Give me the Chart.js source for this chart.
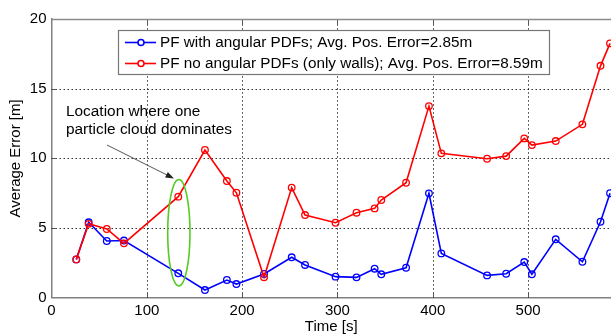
<!DOCTYPE html>
<html>
<head>
<meta charset="utf-8">
<script src="https://cdn.jsdelivr.net/npm/chart.js@4/dist/chart.umd.min.js"></script>
<style>
html,body{margin:0;padding:0;background:#fff;overflow:hidden;}
#wrap{width:611px;height:334px;position:relative;overflow:hidden;}
</style>
</head>
<body>
<div id="wrap"><canvas id="c" width="611" height="334"></canvas></div>
<script>
const times = [26, 39, 58, 76, 133, 161, 184, 194, 223, 252, 266, 298, 320, 339, 346, 372, 396, 409, 457, 477, 496, 504, 529, 557, 576, 586];
const withAngular = [2.75, 5.41, 4.07, 4.1, 1.75, 0.55, 1.27, 0.98, 1.7, 2.9, 2.35, 1.51, 1.46, 2.08, 1.68, 2.15, 7.49, 3.18, 1.6, 1.72, 2.56, 1.68, 4.19, 2.58, 5.45, 7.5];
const noAngular = [2.75, 5.3, 4.93, 3.9, 7.25, 10.6, 8.37, 7.53, 1.46, 7.9, 5.93, 5.38, 6.1, 6.41, 7.01, 8.25, 13.75, 10.36, 9.97, 10.16, 11.43, 10.95, 11.24, 12.44, 16.64, 18.25];
const seriesLabels = ['PF with angular PDFs; Avg. Pos. Error=2.85m', 'PF no angular PDFs (only walls); Avg. Pos. Error=8.59m'];
const seriesColors = ['#0000ff', '#ff0000'];
const xTicks = [0, 100, 200, 300, 400, 500];
const yTicks = [0, 5, 10, 15, 20];
const annotationLines = ['Location where one', 'particle cloud dominates'];
const ellipseCenter = {x: 133.6, y: 4.66, rx: 11.7, ry: 3.82};

const FONT = '"Liberation Sans", Arial, Helvetica, sans-serif';

function pts(ys){ return times.map((t,i)=>({x:t,y:ys[i]})); }

const px = v => Math.round(v) + 0.5;

const deco = {
  id: 'deco',
  beforeDatasetsDraw(chart){
    const ctx = chart.ctx, xs = chart.scales.x, ys = chart.scales.y, ca = chart.chartArea;
    ctx.save();
    ctx.strokeStyle = 'rgba(0,0,0,0.8)'; ctx.lineWidth = 1; ctx.setLineDash([1.5, 2.5]);
    const top = ys.getPixelForValue(20), bot = ys.getPixelForValue(0);
    xTicks.forEach(v => { if (v <= 0) return; const x = px(xs.getPixelForValue(v)); ctx.beginPath(); ctx.moveTo(x, bot); ctx.lineTo(x, top); ctx.stroke(); });
    yTicks.forEach(v => { if (v <= 0 || v >= 20) return; const y = px(ys.getPixelForValue(v)); ctx.beginPath(); ctx.moveTo(ca.left, y); ctx.lineTo(ca.right, y); ctx.stroke(); });
    ctx.setLineDash([]);
    // inward tick marks
    ctx.strokeStyle = '#555';
    xTicks.forEach(v => { if (v <= 0) return; const x = px(xs.getPixelForValue(v));
      ctx.beginPath(); ctx.moveTo(x, bot); ctx.lineTo(x, bot - 5); ctx.moveTo(x, top); ctx.lineTo(x, top + 5); ctx.stroke(); });
    yTicks.forEach(v => { if (v <= 0 || v >= 20) return; const y = px(ys.getPixelForValue(v));
      ctx.beginPath(); ctx.moveTo(ca.left, y); ctx.lineTo(ca.left + 5, y); ctx.stroke(); });
    ctx.restore();
  },
  afterDatasetsDraw(chart){
    const ctx = chart.ctx, xs = chart.scales.x, ys = chart.scales.y, ca = chart.chartArea;
    ctx.save();
    // top border
    ctx.strokeStyle = '#8a8a8a'; ctx.lineWidth = 1.5;
    const ty = Math.round(ys.getPixelForValue(20)) + 0.5;
    ctx.beginPath(); ctx.moveTo(ca.left, ty); ctx.lineTo(ca.right + 5, ty); ctx.stroke();
    // ellipse
    const cx = xs.getPixelForValue(ellipseCenter.x), cy = ys.getPixelForValue(ellipseCenter.y);
    const rx = Math.abs(xs.getPixelForValue(ellipseCenter.x + ellipseCenter.rx) - cx);
    const ry = Math.abs(ys.getPixelForValue(ellipseCenter.y + ellipseCenter.ry) - cy);
    ctx.strokeStyle = '#55cc22'; ctx.lineWidth = 1.6;
    ctx.beginPath(); ctx.ellipse(cx, cy, rx, ry, 0, 0, Math.PI*2); ctx.stroke();
    // annotation text
    ctx.fillStyle = '#000'; ctx.font = '15.4px ' + FONT; ctx.textBaseline = 'middle'; ctx.textAlign = 'left';
    ctx.fillText(annotationLines[0], 66, 112);
    ctx.fillText(annotationLines[1], 66, 130);
    // arrow
    const x1 = 107, y1 = 145, x2 = 174, y2 = 178.5;
    ctx.strokeStyle = '#555'; ctx.lineWidth = 1;
    ctx.beginPath(); ctx.moveTo(x1, y1); ctx.lineTo(x2 - 6, y2 - 3); ctx.stroke();
    const ang = Math.atan2(y2 - y1, x2 - x1);
    ctx.fillStyle = '#222';
    ctx.beginPath();
    ctx.moveTo(x2, y2);
    ctx.lineTo(x2 - 9*Math.cos(ang - 0.35), y2 - 9*Math.sin(ang - 0.35));
    ctx.lineTo(x2 - 9*Math.cos(ang + 0.35), y2 - 9*Math.sin(ang + 0.35));
    ctx.closePath(); ctx.fill();
    // legend box
    const lx = 118.5, ly = 30.5, lw = 431, lh = 44;
    ctx.fillStyle = '#fff'; ctx.fillRect(lx, ly, lw, lh);
    ctx.strokeStyle = '#777'; ctx.lineWidth = 1.2; ctx.strokeRect(lx, ly, lw, lh);
    const rows = [42.5, 63.5];
    for (let i = 0; i < 2; i++){
      ctx.strokeStyle = seriesColors[i]; ctx.lineWidth = 1.6;
      ctx.beginPath(); ctx.moveTo(125, rows[i]); ctx.lineTo(156, rows[i]); ctx.stroke();
      ctx.beginPath(); ctx.arc(141, rows[i], 3, 0, Math.PI*2); ctx.fillStyle = '#fff'; ctx.fill(); ctx.stroke();
      ctx.fillStyle = '#000'; ctx.font = '15.3px ' + FONT; ctx.textBaseline = 'middle';
      ctx.fillText(seriesLabels[i], 160, rows[i] + 0.5);
    }
    ctx.restore();
  }
};

new Chart(document.getElementById('c'), {
  type: 'scatter',
  data: {
    datasets: [
      {label: seriesLabels[0], data: pts(withAngular), showLine: true, borderColor: seriesColors[0], backgroundColor: 'rgba(0,0,0,0)', borderWidth: 1.6, pointRadius: 3.3, pointBorderWidth: 1.3, pointBorderColor: seriesColors[0], pointBackgroundColor: 'rgba(0,0,0,0)', order: 1},
      {label: seriesLabels[1], data: pts(noAngular), showLine: true, borderColor: seriesColors[1], backgroundColor: 'rgba(0,0,0,0)', borderWidth: 1.6, pointRadius: 3.3, pointBorderWidth: 1.3, pointBorderColor: seriesColors[1], pointBackgroundColor: 'rgba(0,0,0,0)', order: 0}
    ]
  },
  options: {
    responsive: false,
    animation: false,
    events: [],
    layout: {autoPadding: false, padding: {top: 19, right: 0, left: 0, bottom: 0}},
    plugins: {legend: {display: false}, tooltip: {enabled: false}},
    scales: {
      x: {
        type: 'linear', min: 0, max: 587,
        afterBuildTicks: s => { s.ticks = xTicks.map(v => ({value: v})); },
        afterFit: s => { s.height = 36.3; },
        grid: {display: true, drawOnChartArea: false, drawTicks: false},
        border: {display: true, color: '#808080', width: 1.5},
        ticks: {color: '#000', font: {family: FONT, size: 15}, padding: 4, maxRotation: 0},
        title: {display: true, text: 'Time [s]', color: '#000', font: {family: FONT, size: 15, lineHeight: 0.9}, padding: {top: 0, bottom: 0}}
      },
      y: {
        type: 'linear', min: 0, max: 20,
        afterBuildTicks: s => { s.ticks = yTicks.map(v => ({value: v})); },
        afterFit: s => { s.width = 51.5; },
        grid: {display: true, drawOnChartArea: false, drawTicks: false},
        border: {display: true, color: '#808080', width: 1.5},
        ticks: {color: '#000', font: {family: FONT, size: 15}, padding: 5},
        title: {display: true, text: 'Average Error [m]', color: '#000', font: {family: FONT, size: 15}, padding: {top: 7, bottom: 0}}
      }
    }
  },
  plugins: [deco]
});
</script>
</body>
</html>
